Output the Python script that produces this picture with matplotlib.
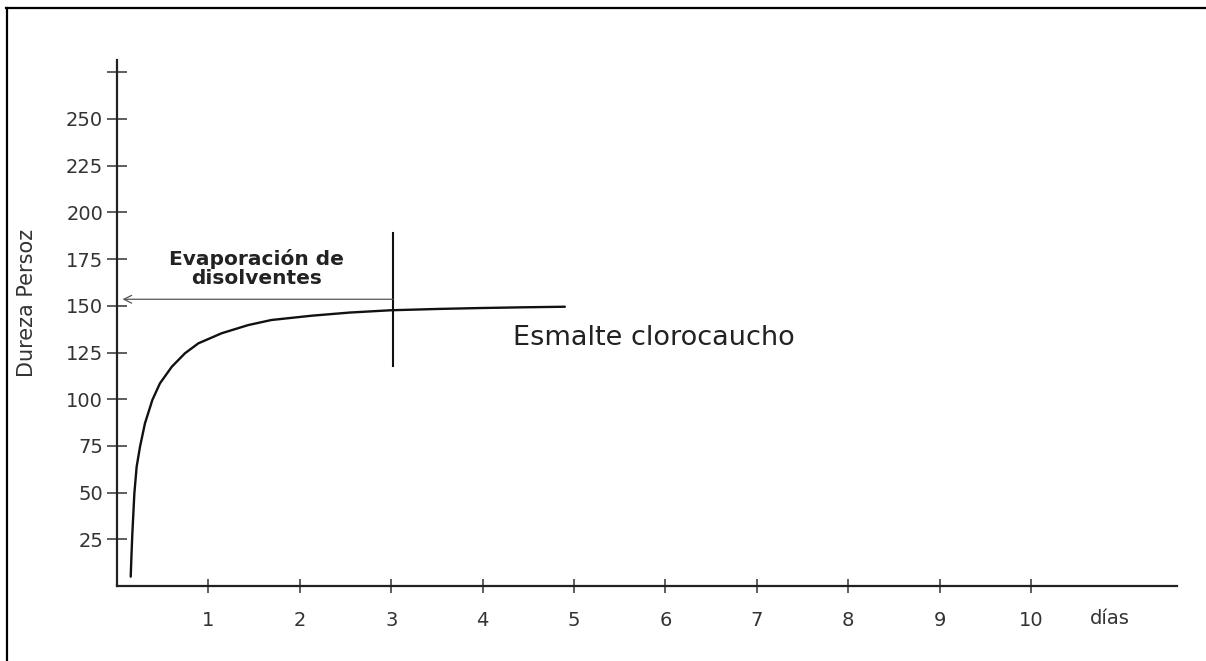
import numpy as np
import matplotlib
matplotlib.use("Agg")
import matplotlib.pyplot as plt
from matplotlib.lines import Line2D

# ---- data ----
dias = [0.15, 0.158, 0.168, 0.19, 0.215, 0.252, 0.306, 0.387, 0.47, 0.6,
        0.744, 0.89, 1.145, 1.437, 1.69, 2.13, 2.55, 2.99, 3.5, 3.97,
        4.45, 4.9]
dureza = [5, 16, 28.2, 49.6, 63.9, 74.6, 87.1, 99.6, 108.5, 117.4,
          124.6, 129.9, 135.3, 139.7, 142.4, 144.7, 146.4, 147.6, 148.3, 148.8,
          149.2, 149.5]

y_ticks = [25, 50, 75, 100, 125, 150, 175, 200, 225, 250, 275]
y_labels = ["25", "50", "75", "100", "125", "150", "175", "200", "225", "250", ""]
x_ticks = [1, 2, 3, 4, 5, 6, 7, 8, 9, 10]
x_labels = ["1", "2", "3", "4", "5", "6", "7", "8", "9", "10"]

dia_evap = 3.02          # vertical marker
evap_rango = [118, 189]  # extent of the marker
nivel_flecha = 153.5     # arrow level

W, H = 1206, 661
fig = plt.figure(figsize=(W / 100, H / 100), dpi=100)
fig.patch.set_facecolor("white")

# axes placed in pixel terms: x axis from 117 to 1177 px, y from 586 to 60 px
ax = fig.add_axes([117 / W, (H - 586) / H, (1177 - 117) / W, (586 - 60) / H])
ax.set_xlim(0, (1177 - 117) / 91.4)
ax.set_ylim(0, (586 - 60) / 1.868)

for s in ["top", "right"]:
    ax.spines[s].set_visible(False)
for s in ["left", "bottom"]:
    ax.spines[s].set_linewidth(1.6)
    ax.spines[s].set_color("#222222")

ax.set_yticks(y_ticks)
ax.set_yticklabels(y_labels)
ax.set_xticks(x_ticks)
ax.set_xticklabels(x_labels)
ax.tick_params(axis="y", direction="inout", length=14, width=1.1, color="#333333",
               labelsize=14, labelcolor="#333333", pad=3)
ax.tick_params(axis="x", direction="inout", length=10, width=1.1, color="#333333",
               labelsize=14, labelcolor="#333333", pad=13)

# curve
ax.plot(dias, dureza, color="#111111", lw=1.7, solid_capstyle="round",
        solid_joinstyle="round")

# vertical marker and arrow
ax.plot([dia_evap, dia_evap], evap_rango, color="#111111", lw=1.5)
ax.annotate("", xy=(0.06, nivel_flecha), xytext=(dia_evap, nivel_flecha),
            arrowprops=dict(arrowstyle="->", color="#555555", lw=0.9,
                            mutation_scale=14, shrinkA=0, shrinkB=0))

ax.text(1.53, 170, "Evaporación de\ndisolventes", ha="center", va="center",
        fontsize=14.5, fontweight="bold", color="#222222", linespacing=1.05)
ax.text(4.33, 133, "Esmalte clorocaucho", ha="left", va="center",
        fontsize=19.5, color="#222222")
ax.text(10.86, -17.5, "días", ha="center", va="center", fontsize=14,
        color="#333333", clip_on=False)

fig.text(27 / W, (H - 303) / H, "Dureza Persoz", rotation=90, ha="center",
         va="center", fontsize=15, color="#333333")

# frame around the figure (left and top edges visible)
fig.add_artist(Line2D([6.5 / W, 6.5 / W], [0, (H - 8) / H], color="black", lw=1.6))
fig.add_artist(Line2D([6 / W, 1], [(H - 8) / H, (H - 8) / H], color="black", lw=1.6))

fig.savefig("out.png", dpi=100)
